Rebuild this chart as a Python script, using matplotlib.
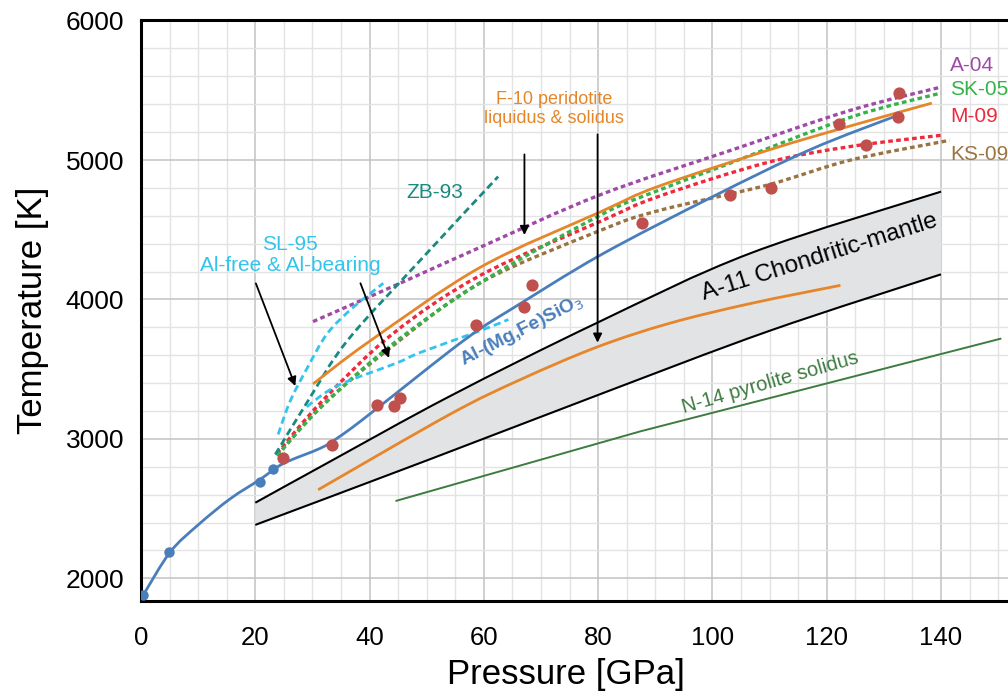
import matplotlib
matplotlib.use("Agg")
import matplotlib.pyplot as plt
from matplotlib.path import Path
from matplotlib.patches import PathPatch
import numpy as np

plt.rcParams['font.family'] = ['Liberation Sans', 'DejaVu Sans']

# ---------------- data (P in GPa, T in K) ----------------
# Al-(Mg,Fe)SiO3 melting curve
alpv_P = [0.35, 5.1, 10, 15.6, 20.8, 24.9, 31.3, 34.3, 38.4, 46.6, 54.1, 59.4, 65, 80.4, 100, 117.2, 132]
alpv_T = [1877, 2188, 2383, 2570, 2708, 2823, 2931, 3004, 3126, 3390, 3632, 3791, 3935, 4318, 4736, 5076, 5314]
# blue data points
blue_pts_P = [0.35, 4.9, 20.8, 23.1]
blue_pts_T = [1877, 2188, 2693, 2787]
# red data points
red_pts_P = [24.9, 33.4, 41.3, 44.3, 45.4, 58.7, 67.1, 68.5, 87.6, 103.0, 110.2, 122.1, 126.8, 132.4, 132.7]
red_pts_T = [2866, 2953, 3242, 3235, 3292, 3819, 3949, 4101, 4549, 4751, 4801, 5256, 5105, 5307, 5480]

# A-11 chondritic mantle band
a11_up_P = [20, 33.1, 54.1, 79.9, 106.7, 140]
a11_up_T = [2542, 2838, 3307, 3834, 4332, 4773]
a11_lo_P = [20, 50, 80, 110, 140]
a11_lo_T = [2383, 2845, 3315, 3775, 4180]
# F-10 solidus (orange inside band)
f10_sol_P = [31.0, 54.1, 66.4, 79.9, 92.6, 106.7, 122.4]
f10_sol_T = [2635, 3177, 3425, 3660, 3830, 3971, 4101]
# F-10 liquidus (orange solid upper)
f10_liq_P = [30.1, 40, 59.4, 80.4, 90.4, 110.2, 124.2, 138.4]
f10_liq_T = [3394, 3700, 4231, 4628, 4809, 5076, 5245, 5408]

# dotted liquidus curves
a04_P = [30.1, 45, 59.4, 80.4, 103.7, 124.2, 140]
a04_T = [3841, 4110, 4375, 4751, 5076, 5357, 5523]
sk05_P = [23.8, 31.7, 44.1, 59.4, 80.4, 90.4, 102, 124.2, 140]
sk05_T = [2880, 3235, 3682, 4120, 4605, 4780, 4960, 5307, 5480]
m09_P = [23.8, 31.7, 44.1, 59.4, 80.4, 90.4, 109.6, 124.2, 140]
m09_T = [2895, 3271, 3755, 4173, 4560, 4736, 4982, 5097, 5177]
ks09_P = [23.8, 31.7, 44.1, 59.4, 80.4, 90.4, 109.6, 124.2, 141.5]
ks09_T = [2880, 3240, 3668, 4120, 4495, 4635, 4820, 5000, 5141]

# ZB-93
zb93_P = [23.5, 29.2, 36.1, 48.9, 62.5]
zb93_T = [2888, 3271, 3704, 4282, 4881]
# SL-95 Al-free and Al-bearing
sl95_free_P = [24.0, 26.1, 29.1, 32.6, 37.1, 42.4]
sl95_free_T = [3032, 3271, 3509, 3755, 3942, 4116]
sl95_alb_P = [29.0, 34.3, 44.8, 48.9, 59.4, 64.3]
sl95_alb_T = [3230, 3380, 3545, 3620, 3776, 3856]
# N-14 pyrolite solidus
n14_P = [44.7, 87.4, 150.4]
n14_T = [2556, 3054, 3718]

# tick labels
x_ticks = [0, 20, 40, 60, 80, 100, 120, 140]
y_ticks = [2000, 3000, 4000, 5000, 6000]

# ---------------- colours ----------------
c_blue = '#4a7ebb'
c_red_pt = '#c0504d'
c_orange = '#e6862a'
c_purple = '#a04aa8'
c_green = '#35b34a'
c_red = '#ef2a3c'
c_brown = '#9a7440'
c_teal = '#1a8a80'
c_cyan = '#33c4ee'
c_n14 = '#3d7b40'


def smooth_path(xs, ys):
    """Catmull-Rom curve through the points, expressed as cubic Bezier path."""
    pts = np.column_stack([xs, ys]).astype(float)
    n = len(pts)
    verts = [pts[0]]
    codes = [Path.MOVETO]
    for i in range(n - 1):
        p0 = pts[i - 1] if i > 0 else pts[i]
        p1 = pts[i]
        p2 = pts[i + 1]
        p3 = pts[i + 2] if i + 2 < n else pts[i + 1]
        c1 = p1 + (p2 - p0) / 6.0
        c2 = p2 - (p3 - p1) / 6.0
        verts += [c1, c2, p2]
        codes += [Path.CURVE4] * 3
    return Path(verts, codes)


def curve(ax, xs, ys, color, lw, ls='-', z=3):
    patch = PathPatch(smooth_path(xs, ys), fill=False, edgecolor=color, lw=lw,
                      linestyle=ls, zorder=z, capstyle='butt', joinstyle='round')
    ax.add_patch(patch)


fig = plt.figure(figsize=(10.08, 7.0), dpi=100)
ax = fig.add_axes([0.1399, 0.1414, 0.907, 0.830])
ax.set_xlim(0, 160)
ax.set_ylim(1837, 6004)

# grid
ax.set_xticks(x_ticks)
ax.set_yticks(y_ticks)
ax.set_xticks(np.arange(0, 161, 5), minor=True)
ax.set_yticks(np.arange(2000, 6001, 200), minor=True)
ax.grid(which='minor', color='#e3e3e3', lw=1.0, zorder=0)
ax.grid(which='major', color='#c2c2c2', lw=1.1, zorder=0)
ax.axvline(160, color='#c2c2c2', lw=1.1, zorder=0)
ax.set_axisbelow(True)
ax.tick_params(which='both', length=0)
ax.tick_params(axis='y', labelsize=19, pad=12)
ax.tick_params(axis='x', labelsize=18.5, pad=18)
for s in ['left', 'bottom', 'top']:
    ax.spines[s].set_linewidth(2.2)
    ax.spines[s].set_color('black')
ax.spines['right'].set_visible(False)

ax.set_xlabel('Pressure [GPa]', fontsize=25)
ax.xaxis.set_label_coords(0.465, -0.098)
ax.set_ylabel('Temperature [K]', fontsize=25, labelpad=12)

# band
up_path = smooth_path(a11_up_P, a11_up_T)
lo_path = smooth_path(a11_lo_P[::-1], a11_lo_T[::-1])
fill_verts = np.concatenate([up_path.vertices, lo_path.vertices, up_path.vertices[:1]])
fill_codes = np.concatenate([up_path.codes, [Path.LINETO], lo_path.codes[1:], [Path.CLOSEPOLY]])
ax.add_patch(PathPatch(Path(fill_verts, fill_codes), facecolor='#e2e3e5', lw=0, zorder=1))
curve(ax, a11_up_P, a11_up_T, 'black', 1.5, z=2)
curve(ax, a11_lo_P, a11_lo_T, 'black', 1.5, z=2)

ax.plot(n14_P, n14_T, color=c_n14, lw=1.4, zorder=2)
curve(ax, f10_sol_P, f10_sol_T, c_orange, 2.0, z=3)

dot_ls = (0, (1.4, 1.0))
curve(ax, ks09_P, ks09_T, c_brown, 2.4, dot_ls)
curve(ax, m09_P, m09_T, c_red, 2.4, dot_ls)
curve(ax, sk05_P, sk05_T, c_green, 2.4, dot_ls)
curve(ax, a04_P, a04_T, c_purple, 2.4, dot_ls)

dash_ls = (0, (2.6, 1.5))
curve(ax, zb93_P, zb93_T, c_teal, 2.0, dash_ls)
curve(ax, sl95_free_P, sl95_free_T, c_cyan, 2.0, dash_ls)
curve(ax, sl95_alb_P, sl95_alb_T, c_cyan, 2.0, dash_ls)

curve(ax, f10_liq_P, f10_liq_T, c_orange, 2.0, z=4)
curve(ax, alpv_P, alpv_T, c_blue, 2.0, z=4)
ax.plot(blue_pts_P, blue_pts_T, 'o', color=c_blue, ms=7.5, mec='none', zorder=5)
ax.plot(red_pts_P, red_pts_T, 'o', color=c_red_pt, ms=8.8, mec='none', zorder=5)

# texts
ax.text(51.5, 4765, 'ZB-93', color=c_teal, fontsize=15, ha='center', va='center')
ax.text(26.1, 4320, 'SL-95\nAl-free & Al-bearing', color=c_cyan, fontsize=15,
        ha='center', va='center', linespacing=1.1)
ax.text(72.3, 5365, 'F-10 peridotite\nliquidus & solidus', color=c_orange, fontsize=13,
        ha='center', va='center', linespacing=1.2)
ax.text(141.6, 5675, 'A-04', color=c_purple, fontsize=15, ha='left', va='center')
ax.text(141.6, 5509, 'SK-05', color=c_green, fontsize=15, ha='left', va='center')
ax.text(141.6, 5314, 'M-09', color=c_red, fontsize=15, ha='left', va='center')
ax.text(141.6, 5040, 'KS-09', color=c_brown, fontsize=15, ha='left', va='center')
ax.text(118.8, 4300, 'A-11 Chondritic-mantle', color='black', fontsize=17.5,
        ha='center', va='center', rotation=17.5, rotation_mode='anchor')
ax.text(110.2, 3400, 'N-14 pyrolite solidus', color=c_n14, fontsize=14.5,
        ha='center', va='center', rotation=16, rotation_mode='anchor')
ax.text(66.7, 3776, 'Al-(Mg,Fe)SiO$_3$', color=c_blue, fontsize=13.8, fontweight='bold',
        ha='center', va='center', rotation=27, rotation_mode='anchor')

# arrows
arr = dict(arrowstyle='-|>', color='black', lw=1.3, mutation_scale=13, shrinkA=0, shrinkB=0)
ax.annotate('', xy=(27.0, 3379), xytext=(20.1, 4115), arrowprops=arr, zorder=6)
ax.annotate('', xy=(43.4, 3581), xytext=(38.4, 4116), arrowprops=arr, zorder=6)
ax.annotate('', xy=(67.1, 4462), xytext=(67.1, 5040), arrowprops=arr, zorder=6)
ax.annotate('', xy=(79.9, 3690), xytext=(79.9, 5184), arrowprops=arr, zorder=6)

fig.savefig('out.png', dpi=100)
